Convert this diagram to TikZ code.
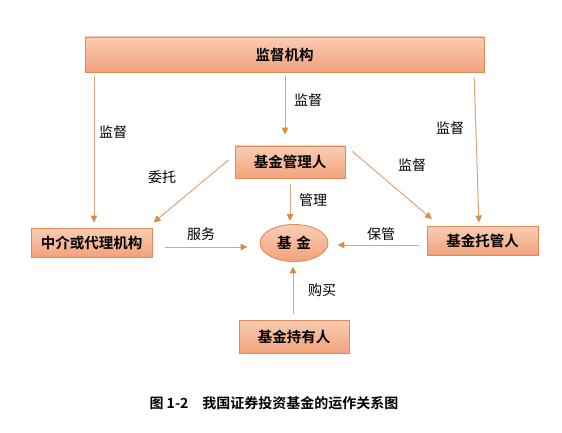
\documentclass[tikz,border=0pt]{standalone}
\usepackage{fontspec}
\newfontfamily\cjk[BoldFont={Noto Sans CJK SC Bold}]{Noto Sans CJK SC}
\usetikzlibrary{arrows.meta,shapes.geometric}
\definecolor{boxtop}{HTML}{F9CDB4}
\definecolor{boxbot}{HTML}{F2A27C}
\definecolor{boxline}{HTML}{E28A57}
\definecolor{arrline}{HTML}{DDA47C}
\definecolor{arrhead}{HTML}{DC8A45}
\begin{document}
\begin{tikzpicture}[x=1pt,y=-1pt,
  every node/.style={font=\cjk\fontsize{14}{16}\selectfont,inner sep=0pt},
  box/.style={draw=boxline,line width=0.9pt,top color=boxtop,bottom color=boxbot,
    font=\cjk\bfseries\fontsize{14.5}{16}\selectfont},
  arr/.style={draw=arrline,line width=1pt,-{Triangle[length=7pt,width=6.5pt,color=arrhead]}}]
  \useasboundingbox (0,0) rectangle (562,433);

  \node[box,minimum width=399pt,minimum height=35pt] (sup) at (284.5,54.5) {监督机构};
  \node[box,minimum width=110pt,minimum height=32pt] (mgr) at (290,162) {基金管理人};
  \node[box,minimum width=121pt,minimum height=29pt] (agent) at (91.5,242.5) {中介或代理机构};
  \node[box,ellipse,minimum width=68pt,minimum height=37pt] (fund) at (294,243) {基\hspace{5pt}金};
  \node[box,minimum width=111pt,minimum height=29pt] (cust) at (482.5,240.5) {基金托管人};
  \node[box,minimum width=110pt,minimum height=33pt] (holder) at (294,336.5) {基金持有人};

  % labels of the arrows
  \node (l1) at (113,132) {监督};
  \node (l2) at (308,100) {监督};
  \node (l3) at (450,128) {监督};
  \node (l4) at (412,165) {监督};
  \node (l5) at (162,177) {委托};
  \node (l6) at (313,200) {管理};
  \node (l7) at (201,234) {服务};
  \node (l8) at (381,234) {保管};
  \node (l9) at (322,290) {购买};

  \draw[arr,shorten <=4pt,shorten >=5pt] ([xshift=2.5pt]agent.north |- sup.south) -- ([xshift=2.5pt]agent.north);
  \draw[arr,shorten <=4pt,shorten >=11pt] ([xshift=-5pt]mgr.north |- sup.south) -- ([xshift=-5pt]mgr.north);
  \draw[arr,shorten <=5pt,shorten >=3pt] ([xshift=-8.5pt]cust.north |- sup.south) -- ([xshift=-3.5pt]cust.north);
  \draw[arr,shorten <=8pt,shorten >=8pt] ([yshift=7pt]mgr.west) -- ([xshift=-5pt]agent.north east);
  \draw[arr,shorten <=9pt,shorten >=10pt] (mgr.north east) -- ([xshift=13pt]cust.north west);
  \draw[arr,shorten <=6pt,shorten >=3pt] (mgr.south) -- (mgr.south |- fund.north);
  \draw[arr,shorten <=13pt,shorten >=12pt] ([yshift=-4.5pt]agent.east) -- ([yshift=-4pt]fund.west);
  \draw[arr,shorten <=8pt,shorten >=9pt] ([yshift=-4.5pt]cust.west) -- ([yshift=-2pt]fund.east);
  \draw[arr,shorten <=6pt,shorten >=4.5pt] ([xshift=-1pt]holder.north) -- ([xshift=-1pt]fund.south);

  \node[font=\cjk\bfseries\fontsize{14}{16}\selectfont] (cap) at (274,403) {图 1-2\hspace{14pt}我国证券投资基金的运作关系图};
\end{tikzpicture}
\end{document}
